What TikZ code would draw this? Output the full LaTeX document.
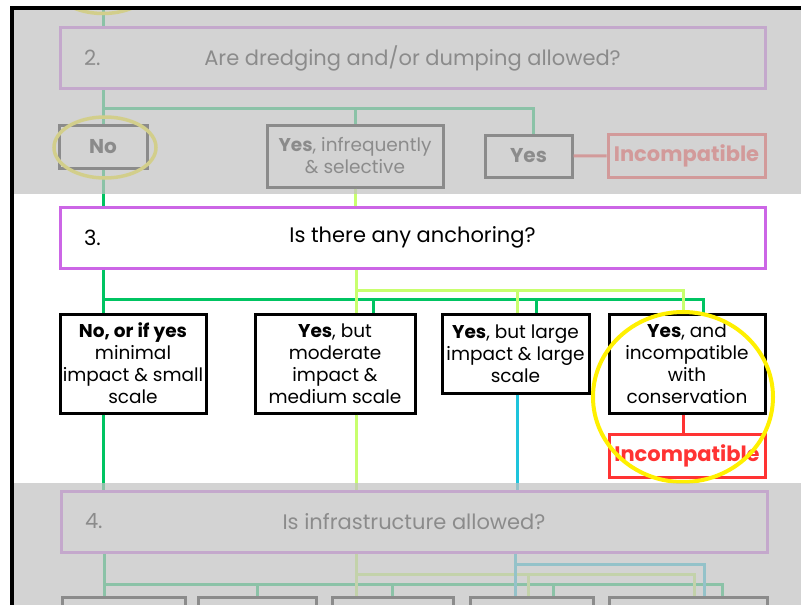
\documentclass[tikz,border=0pt]{standalone}
\usepackage{fontspec}
\setmainfont{Poppins}
\usetikzlibrary{calc}

\definecolor{qpurple}{HTML}{CC66E6}
\definecolor{dkgreen}{HTML}{00C462}
\definecolor{ltgreen}{HTML}{C8FF6E}
\definecolor{skyblue}{HTML}{1EC4DC}
\definecolor{incred}{HTML}{FF3333}
\definecolor{ringyellow}{HTML}{FFF000}
\definecolor{fadegray}{RGB}{194,194,194}

\begin{document}
\begin{tikzpicture}[x=1pt,y=-1pt,
  question/.style={draw=qpurple,line width=3pt,minimum width=705pt,minimum height=61pt,inner sep=0pt,font=\fontsize{21}{24}\selectfont},
  answer/.style={draw=black,line width=3pt,inner sep=0pt,align=center,font=\fontsize{18.5}{22}\selectfont},
  verdict/.style={draw=incred,line width=3pt,text=incred,inner sep=0pt,minimum width=156pt,minimum height=43pt,font=\bfseries\fontsize{21}{24}\selectfont},
  link/.style={line width=3pt},
  ring/.style={draw=ringyellow,line width=3.5pt}]
  \useasboundingbox (0,0) rectangle (801,605);
  \begin{scope}
  \clip (10,6) rectangle (801,605);

  % question 2 (greyed out)
  \node[question] (q2) at (412.5,58) {Are dredging and/or dumping allowed?};
  \node[anchor=west,font=\fontsize{21}{24}\selectfont] (n2) at ([xshift=22pt]q2.west) {2.};
  \node[answer,minimum width=88pt,minimum height=43pt,font=\bfseries\fontsize{20}{24}\selectfont] (no2) at (103,146.5) {No};
  \node[answer,minimum width=176pt,minimum height=62pt] (yi2) at (355,156) {\textbf{Yes}, infrequently\\ \& selective};
  \node[answer,minimum width=87pt,minimum height=42pt,font=\bfseries\fontsize{20}{24}\selectfont] (yes2) at (528.5,156) {Yes};
  \node[verdict,minimum width=157pt] (inc2) at (686.5,155.5) {Incompatible};

  % question 3
  \node[question] (q3) at (412.5,237.5) {Is there any anchoring?};
  \node[anchor=west,font=\fontsize{21}{24}\selectfont] (n3) at ([xshift=22pt]q3.west) {3.};
  \node[answer,minimum width=146pt,minimum height=99pt] (a3) at (133,363.5) {\textbf{No, or if yes}\\ minimal\\ impact \& small\\ scale};
  \node[answer,minimum width=160pt,minimum height=99pt] (b3) at (335,363.5) {\textbf{Yes}, but\\ moderate\\ impact \&\\ medium scale};
  \node[answer,minimum width=147pt,minimum height=79pt] (c3) at (515.5,353.5) {\textbf{Yes}, but large\\ impact \& large\\ scale};
  \node[answer,minimum width=156pt,minimum height=99pt] (d3) at (687,363.5) {\textbf{Yes}, and\\ incompatible\\ with\\ conservation};
  \node[verdict] (inc3) at (687,455.5) {Incompatible};

  % question 4 (greyed out)
  \node[question,minimum width=706pt] (q4) at (414,521.5) {Is infrastructure allowed?};
  \node[anchor=west,font=\fontsize{21}{24}\selectfont] (n4) at ([xshift=22pt]q4.west) {4.};
  \node[answer,minimum width=123pt,minimum height=40pt] (r1) at (123.5,617) {};
  \node[answer,minimum width=118pt,minimum height=40pt] (r2) at (257,617) {};
  \node[answer,minimum width=121pt,minimum height=40pt] (r3) at (392.5,617) {};
  \node[answer,minimum width=123pt,minimum height=40pt] (r4) at (531.5,617) {};
  \node[answer,minimum width=158pt,minimum height=40pt] (r5) at (688,617) {};

  % links of step 2
  \coordinate (top) at (103,9);
  \coordinate (fork2) at (103,108);
  \draw[link,dkgreen] (top) -- (q2.north -| top);
  \draw[link,dkgreen] (q2.south -| no2) -- (no2.north)
    (fork2) -| (yi2.north) (fork2) -| ([xshift=4.5pt]yes2.north);
  \draw[link,incred] (yes2) -- (inc2);
  \draw[link,dkgreen] (no2) -- (q3.north -| no2);
  \draw[link,ltgreen] (yi2) -- (q3.north -| yi2);

  \draw[ring] (103,-17) ellipse [x radius=51, y radius=30.5];
  \draw[ring] (105,147.5) ellipse [x radius=51, y radius=30.5];

  % links of step 3
  \coordinate (dgA) at (103,299);
  \coordinate (dgB) at (373,299);
  \coordinate (dgC) at (536,299);
  \coordinate (dgD) at (703,299);
  \coordinate (lgB) at (356,290);
  \coordinate (lgC) at (517,290);
  \coordinate (lgD) at (683,290);
  \draw[link,dkgreen] (q3.south -| dgA) -- (a3.north -| dgA)
    (dgA) -- (dgD) -- (d3.north -| dgD)
    (dgB) -- (b3.north -| dgB) (dgC) -- (c3.north -| dgC);
  \draw[link,ltgreen] (q3.south -| lgB) -- (b3.north -| lgB)
    (lgB) -- (lgD) -- (d3.north -| lgD) (lgC) -- (c3.north -| lgC);
  \draw[link,incred] (d3.south -| lgD) -- (inc3.north -| lgD);
  \draw[link,dkgreen] (a3.south -| dgA) -- (q4.north -| dgA);
  \draw[link,ltgreen] (b3.south -| lgB) -- (q4.north -| lgB);
  \draw[link,skyblue] (c3.south -| lgC) -- (q4.north -| lgC);

  \draw[ring,line width=4pt] (683,397) ellipse [x radius=90, y radius=85];

  % links of step 4
  \coordinate (gA) at (104,584);
  \coordinate (gE) at (722,584);
  \coordinate (lA) at (356,574);
  \coordinate (lE) at (694,574);
  \coordinate (cA) at (515,564);
  \coordinate (cE) at (704,564);
  \draw[link,dkgreen] (q4.south -| gA) -- (r1.north -| gA)
    (gA) -- (gE) -- (r5.north -| gE)
    (r2.north) -- (r2.north |- gA) (r3.north) -- (r3.north |- gA)
    ([xshift=22pt]r4.north) -- ([xshift=22pt]r4.north |- gA);
  \draw[link,ltgreen] (q4.south -| lA) -- (r3.north -| lA)
    (lA) -- (lE) -- (r5.north -| lE)
    ([xshift=-3.5pt]r4.north) -- ([xshift=-3.5pt]r4.north |- lA);
  \draw[link,skyblue] (q4.south -| cA) -- (r4.north -| cA)
    (cA) -- (cE) -- (r5.north -| cE);

  % grey veils over the steps before and after
  \fill[fadegray,opacity=0.72] (10,6) rectangle (801,194);
  \fill[fadegray,opacity=0.72] (10,483) rectangle (801,605);
  \end{scope}

  \draw[line width=3.5pt] (10,7.75) -- (801,7.75);
  \draw[line width=3.5pt] (11.75,6) -- (11.75,605);
\end{tikzpicture}
\end{document}
